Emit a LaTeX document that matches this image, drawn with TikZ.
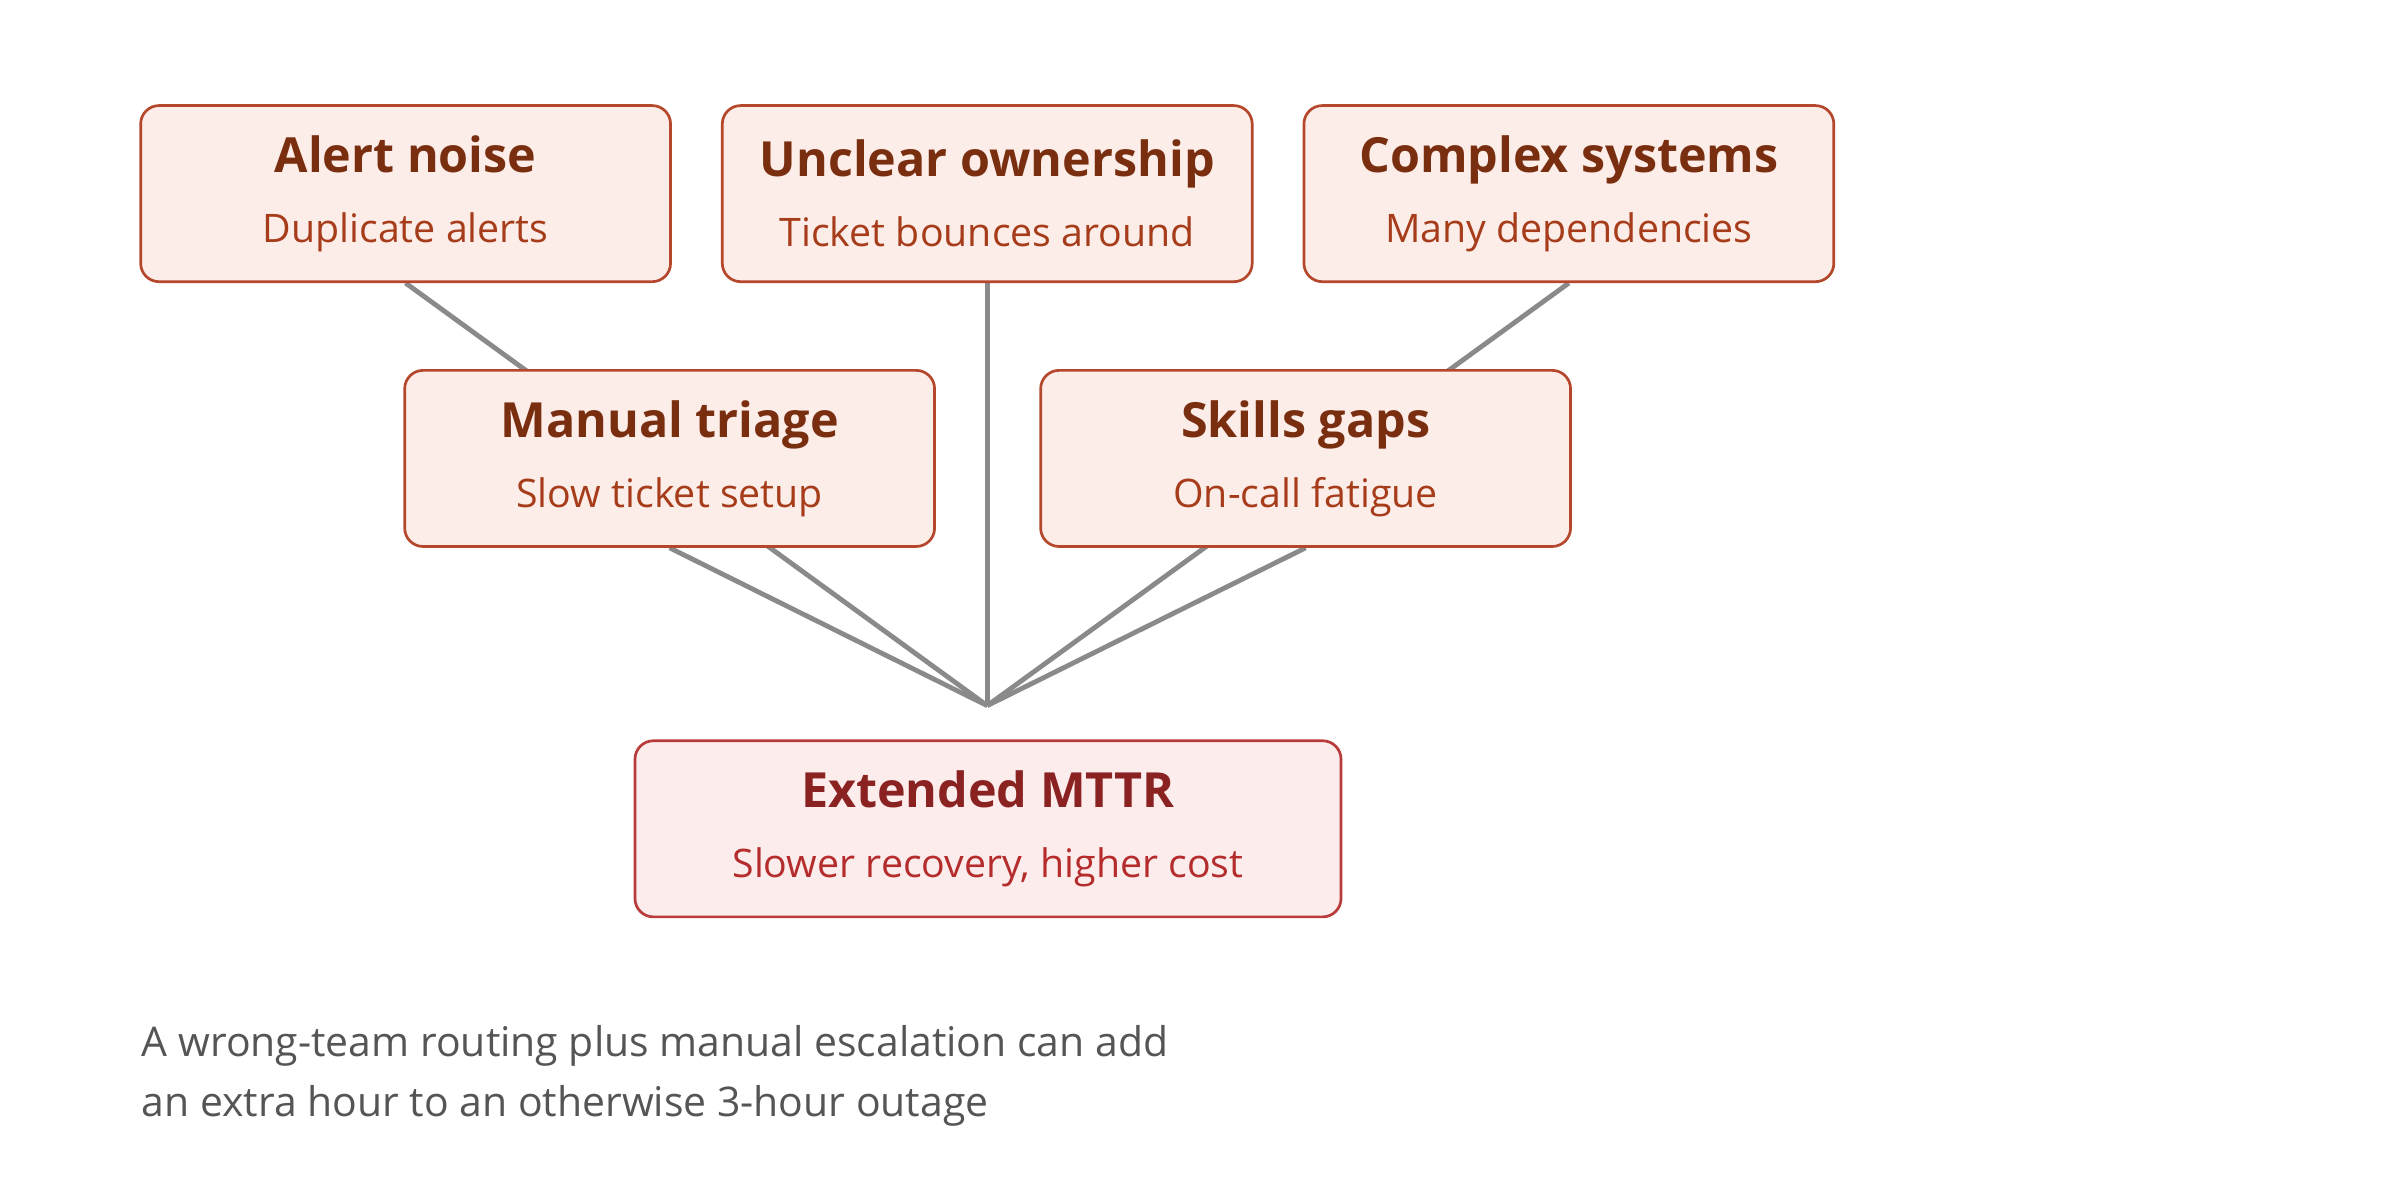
\documentclass[tikz,border=0pt]{standalone}
\usepackage{fontspec}
\setmainfont{Open Sans}
\usetikzlibrary{backgrounds}
\definecolor{causefill}{HTML}{FCEDE8}
\definecolor{causeline}{HTML}{B5482C}
\definecolor{causehead}{HTML}{7A2E10}
\definecolor{causesub}{HTML}{A63C1A}
\definecolor{effectfill}{HTML}{FDECEC}
\definecolor{effectline}{HTML}{B83A3A}
\definecolor{effecthead}{HTML}{8B2222}
\definecolor{effectsub}{HTML}{B52C2C}
\definecolor{linkgray}{HTML}{8A8A8A}
\definecolor{notegray}{HTML}{555555}
\newcommand{\boxtext}[2]{{\fontsize{9pt}{11pt}\selectfont\bfseries #1}\\[1pt]{\fontsize{7.3pt}{9pt}\selectfont\color{subcol}#2}}
\begin{document}
\begin{tikzpicture}[x=0.01cm,y=-0.01cm,
  cause/.style={draw=causeline,fill=causefill,rounded corners=0.12cm,line width=0.5pt,
    minimum width=3.46cm,minimum height=1.15cm,align=center,text=causehead,
    execute at begin node={\colorlet{subcol}{causesub}}},
  effect/.style={cause,draw=effectline,fill=effectfill,text=effecthead,minimum width=4.61cm,
    execute at begin node={\colorlet{subcol}{effectsub}}},
  link/.style={draw=linkgray,line width=0.9pt}]
  \useasboundingbox (0,0) rectangle (1568,784);
  \node[cause] (alert) at (265,126.5) {\boxtext{Alert noise}{Duplicate alerts}};
  \node[cause] (owner) at (645,126.5) {\boxtext{Unclear ownership}{Ticket bounces around}};
  \node[cause] (complex) at (1025,126.5) {\boxtext{Complex systems}{Many dependencies}};
  \node[cause] (triage) at (437.5,299.5) {\boxtext{Manual triage}{Slow ticket setup}};
  \node[cause] (skills) at (853,299.5) {\boxtext{Skills gaps}{On-call fatigue}};
  \node[effect] (mttr) at (645.5,541.5) {\boxtext{Extended MTTR}{Slower recovery, higher cost}};
  \coordinate (hub) at (645,461);
  \begin{scope}[on background layer]
    \foreach \n in {alert,owner,complex,triage,skills}
      \draw[link] (\n.south) -- (hub);
  \end{scope}
  \node[anchor=north west,align=left,text=notegray,font=\fontsize{7.6pt}{11.3pt}\selectfont,inner sep=0pt]
    (note) at (92,669) {A wrong-team routing plus manual escalation can add\\an extra hour to an otherwise 3-hour outage};
\end{tikzpicture}
\end{document}
